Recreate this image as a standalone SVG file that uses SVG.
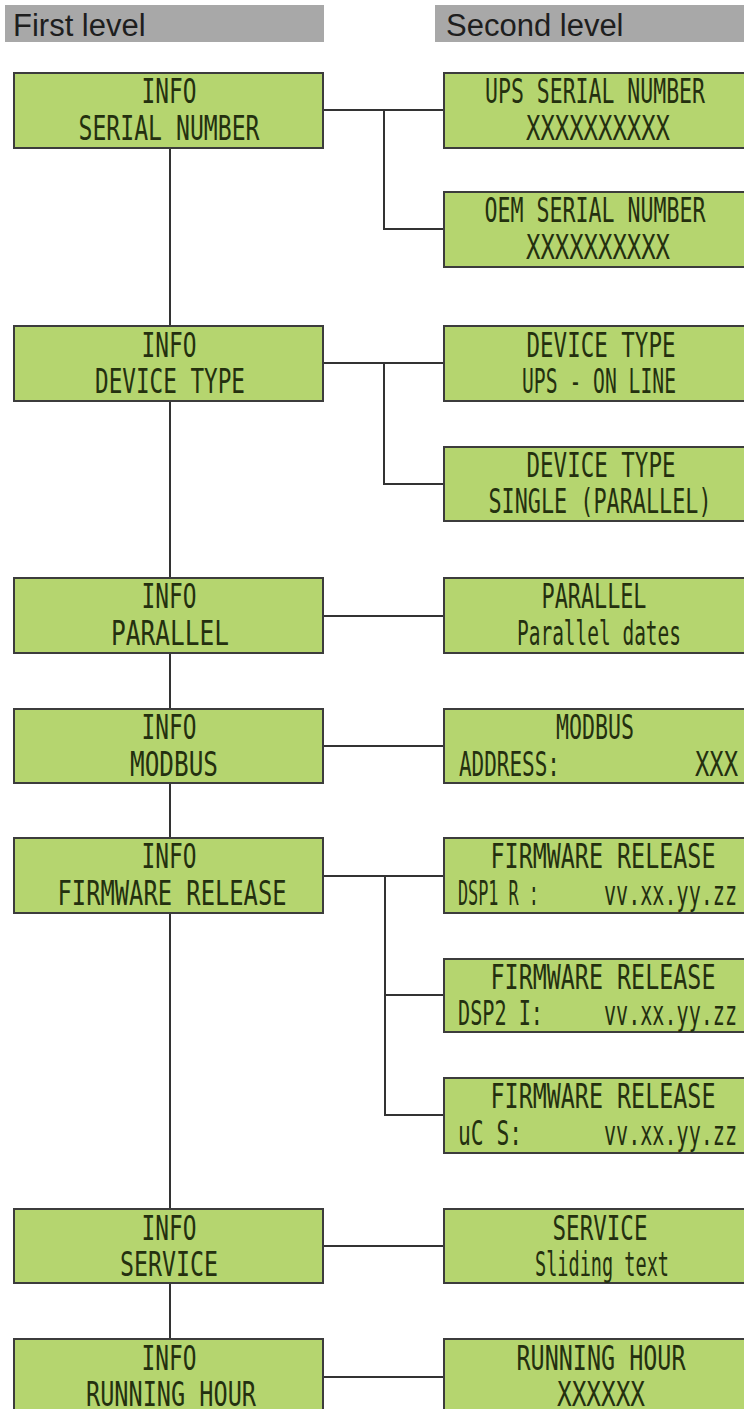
<svg xmlns="http://www.w3.org/2000/svg" width="744" height="1409" viewBox="0 0 744 1409">
<style>
.hdr{fill:#a8a8a8}
.htxt{font-family:"Liberation Sans",Arial,sans-serif;font-size:31px;fill:#1e1e1e}
.box{fill:#b5d56f;stroke:#3c3c3c;stroke-width:2}
.lcd{font-family:"DejaVu Sans Mono","Liberation Mono",monospace;font-size:24px;fill:#24300f}
.sm{font-size:20px}
.c{text-anchor:middle}
.e{text-anchor:end}
.conn{fill:none;stroke:#333;stroke-width:2}
</style>
<rect width="744" height="1409" fill="#ffffff"/>
<g id="header-first">
<rect class="hdr" x="5" y="5" width="319" height="37"/>
<text class="htxt" x="13" y="36">First level</text>
</g>
<g id="header-second">
<rect class="hdr" x="435" y="5" width="312" height="37"/>
<text class="htxt" x="446" y="36">Second level</text>
</g>
<g id="connectors">
<path class="conn" d="M170 148V326M170 401V578M170 653V709M170 783V838M170 913V1209M170 1283V1339"/>
<path class="conn" d="M323 110H444M384 110V229H444"/>
<path class="conn" d="M323 363H444M384 363V484H444"/>
<path class="conn" d="M323 616H444"/>
<path class="conn" d="M323 746H444"/>
<path class="conn" d="M323 876H444M385 876V1115H444M385 995H444"/>
<path class="conn" d="M323 1246H444"/>
<path class="conn" d="M323 1377H444"/>
</g>
<g id="info-serial">
<rect class="box" x="14" y="73" width="309" height="75"/>
<text class="lcd c" transform="translate(169 103) scale(1 1.4)" textLength="55" lengthAdjust="spacingAndGlyphs">INFO</text>
<text class="lcd c" transform="translate(169 140) scale(1 1.4)" textLength="181" lengthAdjust="spacingAndGlyphs">SERIAL NUMBER</text>
</g>
<g id="ups-serial">
<rect class="box" x="444" y="73" width="310" height="75"/>
<text class="lcd c" transform="translate(595 103) scale(1 1.4)" textLength="220" lengthAdjust="spacingAndGlyphs">UPS SERIAL NUMBER</text>
<text class="lcd c" transform="translate(598 140) scale(1 1.4)" textLength="144" lengthAdjust="spacingAndGlyphs">XXXXXXXXXX</text>
</g>
<g id="oem-serial">
<rect class="box" x="444" y="192" width="310" height="75"/>
<text class="lcd c" transform="translate(595 222) scale(1 1.4)" textLength="221" lengthAdjust="spacingAndGlyphs">OEM SERIAL NUMBER</text>
<text class="lcd c" transform="translate(598 259) scale(1 1.4)" textLength="144" lengthAdjust="spacingAndGlyphs">XXXXXXXXXX</text>
</g>
<g id="info-device">
<rect class="box" x="14" y="326" width="309" height="75"/>
<text class="lcd c" transform="translate(169 357) scale(1 1.4)" textLength="55" lengthAdjust="spacingAndGlyphs">INFO</text>
<text class="lcd c" transform="translate(170 393) scale(1 1.4)" textLength="150" lengthAdjust="spacingAndGlyphs">DEVICE TYPE</text>
</g>
<g id="device-online">
<rect class="box" x="444" y="326" width="310" height="75"/>
<text class="lcd c" transform="translate(601 357) scale(1 1.4)" textLength="149" lengthAdjust="spacingAndGlyphs">DEVICE TYPE</text>
<text class="lcd c" transform="translate(599 393) scale(1 1.4)" textLength="154" lengthAdjust="spacingAndGlyphs">UPS - ON LINE</text>
</g>
<g id="device-single">
<rect class="box" x="444" y="447" width="310" height="74"/>
<text class="lcd c" transform="translate(601 477) scale(1 1.4)" textLength="149" lengthAdjust="spacingAndGlyphs">DEVICE TYPE</text>
<text class="lcd c" transform="translate(600 513) scale(1 1.4)" textLength="223" lengthAdjust="spacingAndGlyphs">SINGLE (PARALLEL)</text>
</g>
<g id="info-parallel">
<rect class="box" x="14" y="578" width="309" height="75"/>
<text class="lcd c" transform="translate(169 608) scale(1 1.4)" textLength="55" lengthAdjust="spacingAndGlyphs">INFO</text>
<text class="lcd c" transform="translate(170 645) scale(1 1.4)" textLength="118" lengthAdjust="spacingAndGlyphs">PARALLEL</text>
</g>
<g id="parallel-dates">
<rect class="box" x="444" y="578" width="310" height="75"/>
<text class="lcd c" transform="translate(594 608) scale(1 1.4)" textLength="105" lengthAdjust="spacingAndGlyphs">PARALLEL</text>
<text class="lcd c" transform="translate(599 645) scale(1 1.4)" textLength="164" lengthAdjust="spacingAndGlyphs">Parallel dates</text>
</g>
<g id="info-modbus">
<rect class="box" x="14" y="709" width="309" height="74"/>
<text class="lcd c" transform="translate(169 739) scale(1 1.4)" textLength="55" lengthAdjust="spacingAndGlyphs">INFO</text>
<text class="lcd c" transform="translate(174 776) scale(1 1.4)" textLength="88" lengthAdjust="spacingAndGlyphs">MODBUS</text>
</g>
<g id="modbus-address">
<rect class="box" x="444" y="709" width="310" height="74"/>
<text class="lcd c" transform="translate(595 739) scale(1 1.4)" textLength="78" lengthAdjust="spacingAndGlyphs">MODBUS</text>
<text class="lcd" transform="translate(459 776) scale(1 1.4)" textLength="101" lengthAdjust="spacingAndGlyphs">ADDRESS:</text>
<text class="lcd e" transform="translate(738 776) scale(1 1.4)" textLength="43" lengthAdjust="spacingAndGlyphs">XXX</text>
</g>
<g id="info-firmware">
<rect class="box" x="14" y="838" width="309" height="75"/>
<text class="lcd c" transform="translate(169 868) scale(1 1.4)" textLength="55" lengthAdjust="spacingAndGlyphs">INFO</text>
<text class="lcd c" transform="translate(172 905) scale(1 1.4)" textLength="229" lengthAdjust="spacingAndGlyphs">FIRMWARE RELEASE</text>
</g>
<g id="fw-dsp1">
<rect class="box" x="444" y="838" width="310" height="75"/>
<text class="lcd c" transform="translate(603 868) scale(1 1.4)" textLength="225" lengthAdjust="spacingAndGlyphs">FIRMWARE RELEASE</text>
<text class="lcd" transform="translate(458 905) scale(1 1.4)" textLength="81" lengthAdjust="spacingAndGlyphs">DSP1 R :</text>
<text class="lcd sm" transform="translate(604 905) scale(1 1.68)" textLength="133" lengthAdjust="spacingAndGlyphs">vv.xx.yy.zz</text>
</g>
<g id="fw-dsp2">
<rect class="box" x="444" y="959" width="310" height="73"/>
<text class="lcd c" transform="translate(603 989) scale(1 1.4)" textLength="225" lengthAdjust="spacingAndGlyphs">FIRMWARE RELEASE</text>
<text class="lcd" transform="translate(458 1025) scale(1 1.4)" textLength="85" lengthAdjust="spacingAndGlyphs">DSP2 I:</text>
<text class="lcd sm" transform="translate(604 1025) scale(1 1.68)" textLength="133" lengthAdjust="spacingAndGlyphs">vv.xx.yy.zz</text>
</g>
<g id="fw-uc">
<rect class="box" x="444" y="1078" width="310" height="75"/>
<text class="lcd c" transform="translate(603 1108) scale(1 1.4)" textLength="225" lengthAdjust="spacingAndGlyphs">FIRMWARE RELEASE</text>
<text class="lcd" transform="translate(458 1145) scale(1 1.4)" textLength="64" lengthAdjust="spacingAndGlyphs">uC S:</text>
<text class="lcd sm" transform="translate(604 1145) scale(1 1.68)" textLength="133" lengthAdjust="spacingAndGlyphs">vv.xx.yy.zz</text>
</g>
<g id="info-service">
<rect class="box" x="14" y="1209" width="309" height="74"/>
<text class="lcd c" transform="translate(169 1240) scale(1 1.4)" textLength="55" lengthAdjust="spacingAndGlyphs">INFO</text>
<text class="lcd c" transform="translate(169 1276) scale(1 1.4)" textLength="98" lengthAdjust="spacingAndGlyphs">SERVICE</text>
</g>
<g id="service-text">
<rect class="box" x="444" y="1209" width="310" height="74"/>
<text class="lcd c" transform="translate(600 1240) scale(1 1.4)" textLength="95" lengthAdjust="spacingAndGlyphs">SERVICE</text>
<text class="lcd c" transform="translate(602 1276) scale(1 1.4)" textLength="134" lengthAdjust="spacingAndGlyphs">Sliding text</text>
</g>
<g id="info-running">
<rect class="box" x="14" y="1339" width="309" height="80"/>
<text class="lcd c" transform="translate(169 1370) scale(1 1.4)" textLength="55" lengthAdjust="spacingAndGlyphs">INFO</text>
<text class="lcd c" transform="translate(171 1406) scale(1 1.4)" textLength="170" lengthAdjust="spacingAndGlyphs">RUNNING HOUR</text>
</g>
<g id="running-hour">
<rect class="box" x="444" y="1339" width="310" height="80"/>
<text class="lcd c" transform="translate(601 1370) scale(1 1.4)" textLength="169" lengthAdjust="spacingAndGlyphs">RUNNING HOUR</text>
<text class="lcd c" transform="translate(601 1406) scale(1 1.4)" textLength="88" lengthAdjust="spacingAndGlyphs">XXXXXX</text>
</g>
</svg>
